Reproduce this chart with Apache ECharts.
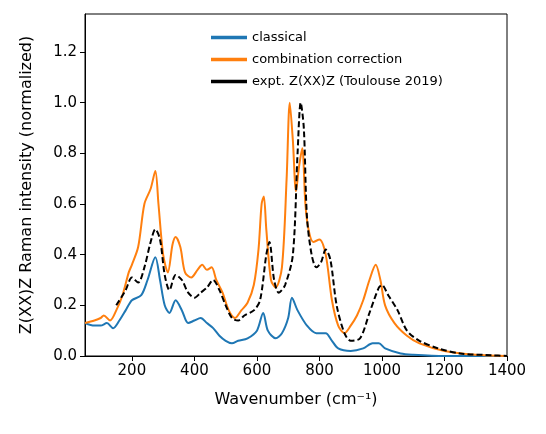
<!DOCTYPE html><html><head><meta charset="utf-8"><script src="https://cdn.jsdelivr.net/npm/echarts@6/dist/echarts.min.js"></script></head><body style="margin:0"><div id="c" style="width:546px;height:434px"></div><script>
const xTicks=[200,400,600,800,1000,1200,1400];
const yTicks=[0,0.2,0.4,0.6,0.8,1.0,1.2];
const classical=[[50,0.13],[80,0.12],[100,0.12],[120,0.13],[140,0.11],[160,0.14],[180,0.18],[200,0.22],[230,0.24],[250,0.3],[275,0.39],[290,0.3],[305,0.2],[320,0.17],[340,0.22],[360,0.18],[380,0.13],[400,0.14],[420,0.15],[440,0.13],[460,0.11],[480,0.08],[500,0.06],[520,0.05],[540,0.06],[570,0.07],[600,0.1],[620,0.17],[635,0.1],[660,0.07],[680,0.09],[700,0.15],[712,0.23],[730,0.18],[760,0.12],[790,0.09],[820,0.09],[840,0.06],[860,0.03],[900,0.02],[940,0.03],[970,0.05],[990,0.05],[1010,0.03],[1060,0.01],[1100,0.005],[1200,0],[1400,0]];
const combination=[[50,0.13],[80,0.14],[100,0.15],[110,0.16],[130,0.14],[150,0.18],[170,0.24],[190,0.33],[200,0.36],[220,0.43],[240,0.6],[260,0.66],[275,0.73],[285,0.6],[300,0.4],[315,0.33],[330,0.44],[340,0.47],[355,0.43],[370,0.33],[390,0.31],[410,0.34],[425,0.36],[440,0.34],[455,0.35],[470,0.3],[490,0.25],[510,0.18],[530,0.15],[550,0.18],[570,0.21],[590,0.28],[605,0.42],[615,0.6],[622,0.63],[630,0.5],[645,0.3],[660,0.27],[680,0.35],[695,0.7],[705,1.0],[715,0.85],[725,0.65],[735,0.75],[745,0.82],[755,0.6],[765,0.5],[780,0.45],[800,0.46],[820,0.4],[840,0.22],[860,0.12],[880,0.09],[900,0.12],[920,0.16],[940,0.22],[960,0.3],[980,0.36],[995,0.3],[1010,0.2],[1040,0.13],[1080,0.08],[1120,0.05],[1200,0.02],[1300,0.005],[1400,0]];
const expt=[[150,0.2],[180,0.26],[200,0.31],[220,0.29],[240,0.35],[260,0.45],[275,0.5],[290,0.46],[305,0.32],[320,0.26],[340,0.32],[360,0.3],[380,0.25],[400,0.23],[420,0.25],[440,0.27],[460,0.3],[480,0.26],[500,0.2],[520,0.15],[540,0.14],[560,0.16],[590,0.18],[610,0.22],[630,0.4],[640,0.45],[655,0.3],[670,0.25],[690,0.28],[715,0.4],[730,0.8],[740,1.0],[750,0.9],[760,0.55],[775,0.4],[790,0.35],[805,0.37],[820,0.42],[835,0.38],[855,0.2],[880,0.09],[900,0.06],[930,0.07],[960,0.17],[990,0.27],[1000,0.28],[1020,0.24],[1050,0.18],[1080,0.1],[1120,0.06],[1180,0.03],[1250,0.01],[1350,0.003],[1400,0]];
const F='DejaVu Sans';
function axis(o,ticks,fmt){return Object.assign({type:'value',nameLocation:'middle',
axisLine:{show:true,onZero:false,lineStyle:{color:'#000'}},
axisTick:{show:true,customValues:ticks,lineStyle:{color:'#000'}},
axisLabel:{customValues:ticks,formatter:fmt,color:'#000',fontSize:15,fontFamily:F},
splitLine:{show:false},nameTextStyle:{color:'#000',fontSize:16,fontFamily:F}},o);}
const c=echarts.init(document.getElementById('c'));
c.setOption({animation:false,
grid:{left:85,right:39,top:14,bottom:78,show:true,borderColor:'#000',borderWidth:1},
legend:{top:26,left:206,orient:'vertical',itemGap:9,itemWidth:36,textStyle:{fontSize:13,fontFamily:F,color:'#000'},icon:'path://M0,0H1V0.1H0Z'},
xAxis:axis({min:50,max:1400,name:'Wavenumber (cm⁻¹)',nameGap:36},xTicks,v=>String(v)),
yAxis:axis({min:0,max:1.35,name:'Z(XX)Z Raman intensity (normalized)',nameGap:50},yTicks,v=>v.toFixed(1)),
series:[
{name:'classical',type:'line',data:classical,smooth:0.3,showSymbol:false,lineStyle:{color:'#1f77b4',width:2},itemStyle:{color:'#1f77b4'}},
{name:'combination correction',type:'line',data:combination,smooth:0.3,showSymbol:false,lineStyle:{color:'#ff7f0e',width:2},itemStyle:{color:'#ff7f0e'}},
{name:'expt. Z(XX)Z (Toulouse 2019)',type:'line',data:expt,smooth:0.3,showSymbol:false,lineStyle:{color:'#000',width:2,type:[6,3]},itemStyle:{color:'#000'}}]});
</script></body></html>
